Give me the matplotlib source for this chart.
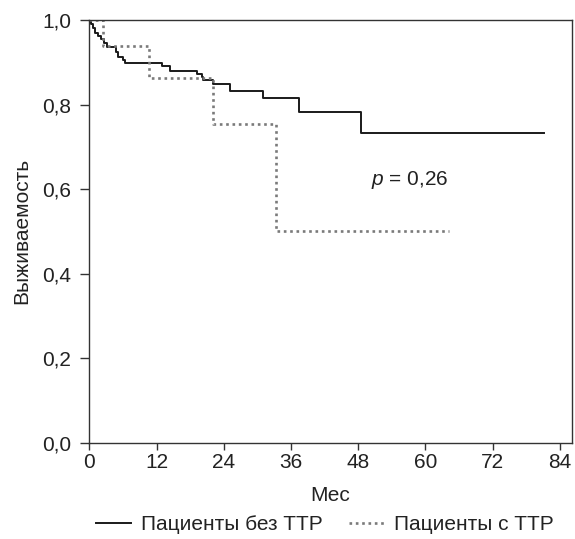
import matplotlib
matplotlib.use("Agg")
import matplotlib.pyplot as plt

plt.rcParams['font.family'] = ['Liberation Sans', 'DejaVu Sans']
plt.rcParams['mathtext.fontset'] = 'custom'
plt.rcParams['mathtext.it'] = 'Liberation Sans:italic'
plt.rcParams['mathtext.rm'] = 'Liberation Sans'

# Data: Kaplan-Meier step curves (months, survival)
no_ttr_time = [0, 0.3, 0.6, 1.0, 1.5, 2.0, 2.6, 3.2, 4.8, 5.2, 6.0, 6.4, 12.9, 14.4,
               19.3, 20.1, 20.3, 22.1, 25.2, 31.0, 37.4, 48.5, 81.2]
no_ttr_surv = [1.0, 0.99, 0.98, 0.97, 0.962, 0.955, 0.946, 0.937, 0.925, 0.912, 0.905, 0.899,
               0.890, 0.880, 0.872, 0.864, 0.858, 0.848, 0.833, 0.815, 0.783, 0.733, 0.733]

ttr_time = [0, 2.5, 10.7, 22.1, 33.4, 64.2]
ttr_surv = [1.0, 0.939, 0.862, 0.754, 0.50, 0.50]

x_ticks = [0, 12, 24, 36, 48, 60, 72, 84]
y_ticks = [0.0, 0.2, 0.4, 0.6, 0.8, 1.0]
y_tick_labels = ['0,0', '0,2', '0,4', '0,6', '0,8', '1,0']
series_labels = ['Пациенты без ТТР', 'Пациенты с ТТР']

FS = 15
TXT = '#222222'

fig = plt.figure(figsize=(5.75, 5.39), dpi=100)
ax = fig.add_axes([0.1553, 0.1787, 0.9943 - 0.1553, 0.9629 - 0.1787])

ax.step(no_ttr_time, no_ttr_surv, where='post', color='#1a1a1a', lw=1.4,
        label=series_labels[0])
ax.step(ttr_time, ttr_surv, where='post', color='#7a7a7a', lw=1.9,
        linestyle=(0, (1, 1.4)), label=series_labels[1])

ax.set_xlim(0, 86.1)
ax.set_ylim(0, 1.0)
ax.set_xticks(x_ticks)
ax.set_xticklabels([str(t) for t in x_ticks])
ax.set_yticks(y_ticks)
ax.set_yticklabels(y_tick_labels)

for s in ax.spines.values():
    s.set_color('#333333')
    s.set_linewidth(1.0)
ax.tick_params(axis='x', direction='out', length=5, width=1.0, color='#333333',
               labelsize=FS, pad=2.5, labelcolor=TXT)
ax.tick_params(axis='y', direction='out', length=6.5, width=1.0, color='#333333',
               labelsize=FS, pad=6.5, labelcolor=TXT)

ax.set_xlabel('Мес', fontsize=FS, color=TXT, labelpad=10)
ax.set_ylabel('Выживаемость', fontsize=FS, color=TXT, labelpad=8)

ax.text(50.3, 0.621, '$p$ = 0,26', fontsize=FS, color=TXT, ha='left', va='center')

fig.legend(loc='center', bbox_to_anchor=(0.565, 0.026), ncol=2, frameon=False,
           fontsize=FS, handlelength=1.68, handletextpad=0.48, columnspacing=1.3,
           labelcolor=TXT, borderpad=0, borderaxespad=0)

fig.savefig('out.png', dpi=100)
